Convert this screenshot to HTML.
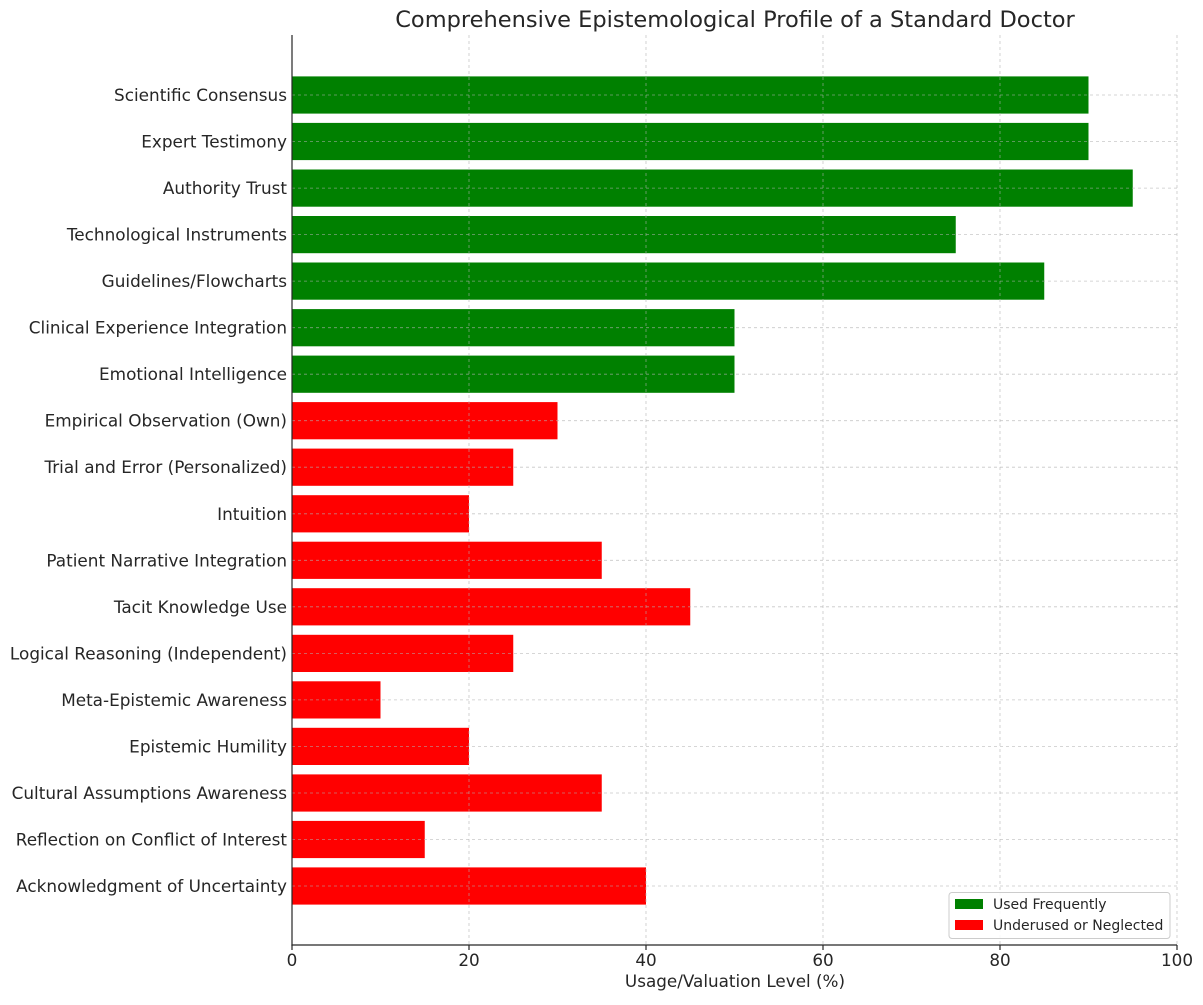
<!DOCTYPE html>
<html><head><meta charset="utf-8"><style>
html,body{margin:0;padding:0;background:#fff}
svg text{font-family:"DejaVu Sans","Liberation Sans",sans-serif;fill:#262626}
</style></head><body>
<svg width="1203" height="1000" xmlns="http://www.w3.org/2000/svg">
<text x="735" y="27" font-size="22.5" text-anchor="middle" fill="#333">Comprehensive Epistemological Profile of a Standard Doctor</text>
<g fill="#008000">
<rect x="292" y="76.4" width="796.5" height="37.2"/>
<rect x="292" y="122.9" width="796.5" height="37.2"/>
<rect x="292" y="169.5" width="840.75" height="37.2"/>
<rect x="292" y="216" width="663.75" height="37.2"/>
<rect x="292" y="262.5" width="752.25" height="37.2"/>
<rect x="292" y="309.1" width="442.5" height="37.2"/>
<rect x="292" y="355.6" width="442.5" height="37.2"/>
</g>
<g fill="#ff0000">
<rect x="292" y="402.1" width="265.5" height="37.2"/>
<rect x="292" y="448.6" width="221.25" height="37.2"/>
<rect x="292" y="495.2" width="177" height="37.2"/>
<rect x="292" y="541.7" width="309.75" height="37.2"/>
<rect x="292" y="588.2" width="398.25" height="37.2"/>
<rect x="292" y="634.8" width="221.25" height="37.2"/>
<rect x="292" y="681.3" width="88.5" height="37.2"/>
<rect x="292" y="727.8" width="177" height="37.2"/>
<rect x="292" y="774.4" width="309.75" height="37.2"/>
<rect x="292" y="820.9" width="132.75" height="37.2"/>
<rect x="292" y="867.4" width="354" height="37.2"/>
</g>
<g stroke="#b0b0b0" stroke-opacity="0.7" stroke-width="0.8" stroke-dasharray="3,3">
<line x1="469" y1="35" x2="469" y2="945"/><line x1="646" y1="35" x2="646" y2="945"/>
<line x1="823" y1="35" x2="823" y2="945"/><line x1="1000" y1="35" x2="1000" y2="945"/>
<line x1="1177" y1="35" x2="1177" y2="945"/>
<line x1="292" y1="95" x2="1177" y2="95"/><line x1="292" y1="141.5" x2="1177" y2="141.5"/>
<line x1="292" y1="188.1" x2="1177" y2="188.1"/><line x1="292" y1="234.6" x2="1177" y2="234.6"/>
<line x1="292" y1="281.1" x2="1177" y2="281.1"/><line x1="292" y1="327.7" x2="1177" y2="327.7"/>
<line x1="292" y1="374.2" x2="1177" y2="374.2"/><line x1="292" y1="420.7" x2="1177" y2="420.7"/>
<line x1="292" y1="467.2" x2="1177" y2="467.2"/><line x1="292" y1="513.8" x2="1177" y2="513.8"/>
<line x1="292" y1="560.3" x2="1177" y2="560.3"/><line x1="292" y1="606.8" x2="1177" y2="606.8"/>
<line x1="292" y1="653.4" x2="1177" y2="653.4"/><line x1="292" y1="699.9" x2="1177" y2="699.9"/>
<line x1="292" y1="746.4" x2="1177" y2="746.4"/><line x1="292" y1="793" x2="1177" y2="793"/>
<line x1="292" y1="839.5" x2="1177" y2="839.5"/><line x1="292" y1="886" x2="1177" y2="886"/>
</g>
<g stroke="#262626" stroke-width="1.2">
<line x1="292" y1="35" x2="292" y2="945.6"/>
<line x1="291.4" y1="945" x2="1177" y2="945"/>
<line x1="292" y1="945" x2="292" y2="950"/><line x1="469" y1="945" x2="469" y2="950"/>
<line x1="646" y1="945" x2="646" y2="950"/><line x1="823" y1="945" x2="823" y2="950"/>
<line x1="1000" y1="945" x2="1000" y2="950"/><line x1="1177" y1="945" x2="1177" y2="950"/>
</g>
<g font-size="16.8" text-anchor="middle">
<text x="292" y="966">0</text><text x="469" y="966">20</text><text x="646" y="966">40</text>
<text x="823" y="966">60</text><text x="1000" y="966">80</text><text x="1177" y="966">100</text>
<text x="735" y="987">Usage/Valuation Level (%)</text>
</g>
<g font-size="16.85" text-anchor="end">
<text x="287" y="101">Scientific Consensus</text>
<text x="287" y="147.5">Expert Testimony</text>
<text x="287" y="194.1">Authority Trust</text>
<text x="287" y="240.6">Technological Instruments</text>
<text x="287" y="287.1">Guidelines/Flowcharts</text>
<text x="287" y="333.7">Clinical Experience Integration</text>
<text x="287" y="380.2">Emotional Intelligence</text>
<text x="287" y="426.7">Empirical Observation (Own)</text>
<text x="287" y="473.2">Trial and Error (Personalized)</text>
<text x="287" y="519.8">Intuition</text>
<text x="287" y="566.3">Patient Narrative Integration</text>
<text x="287" y="612.8">Tacit Knowledge Use</text>
<text x="287" y="659.4">Logical Reasoning (Independent)</text>
<text x="287" y="705.9">Meta-Epistemic Awareness</text>
<text x="287" y="752.4">Epistemic Humility</text>
<text x="287" y="799">Cultural Assumptions Awareness</text>
<text x="287" y="845.5">Reflection on Conflict of Interest</text>
<text x="287" y="892">Acknowledgment of Uncertainty</text>
</g>
<rect x="949" y="892.5" width="221" height="46" rx="3" fill="#fff" fill-opacity="0.85" stroke="#ccc"/>
<rect x="955" y="899" width="28" height="10" fill="#008000"/>
<rect x="955" y="920" width="28" height="10" fill="#ff0000"/>
<g font-size="14" fill="#333"><text x="993" y="909">Used Frequently</text><text x="993" y="930">Underused or Neglected</text></g>
</svg>
</body></html>
